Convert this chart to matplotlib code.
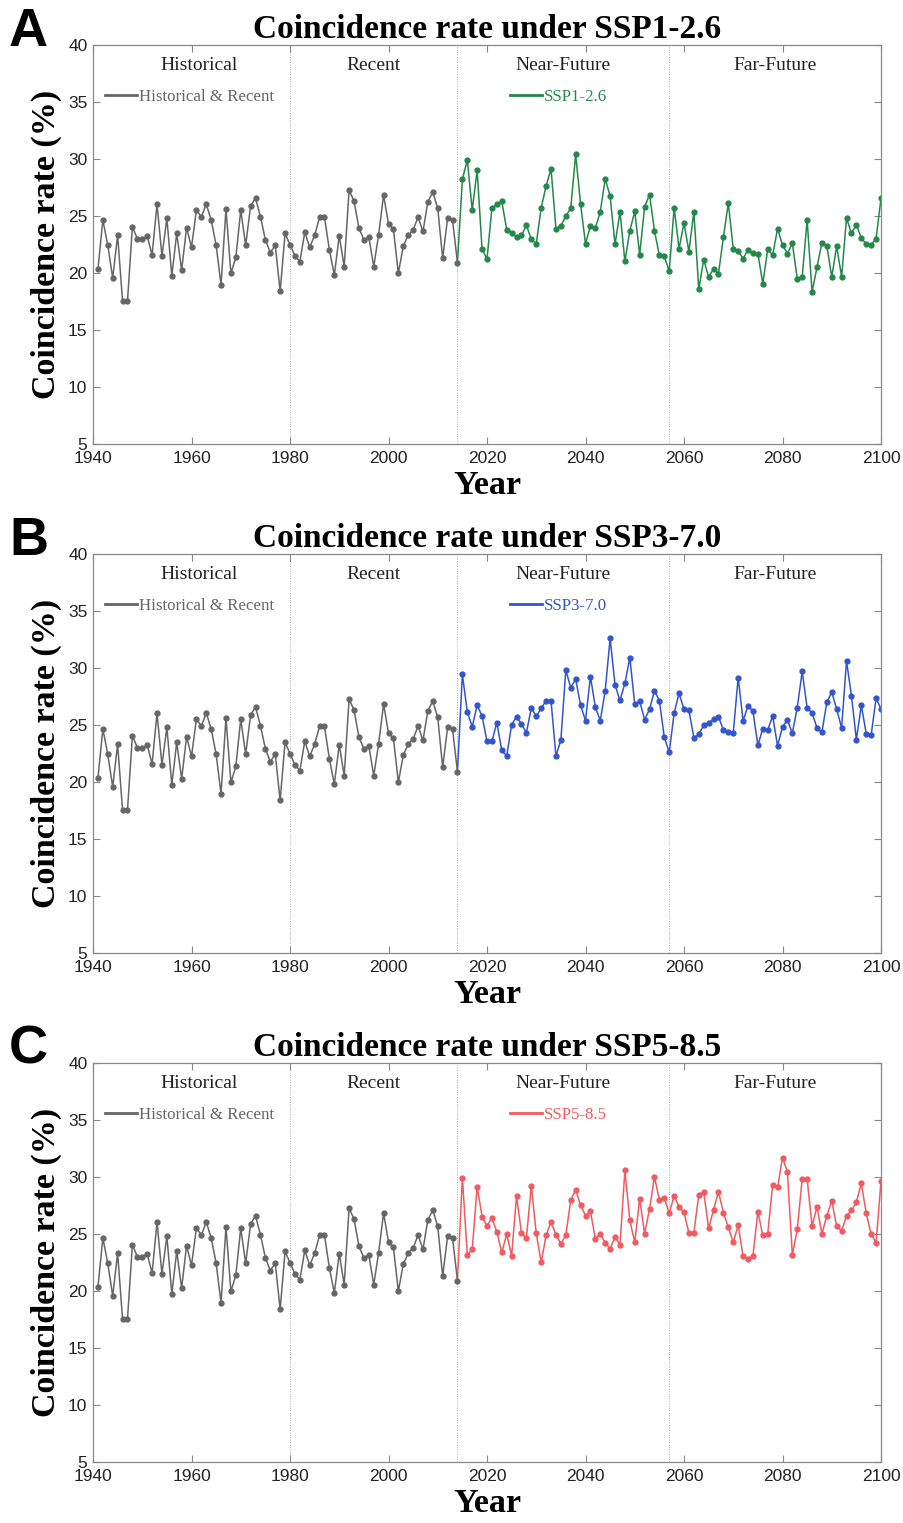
import matplotlib
matplotlib.use("Agg")
import matplotlib.pyplot as plt
from matplotlib.lines import Line2D

# ---------------------------------------------------------------- data
hist_years = list(range(1941, 2015))
fut_years = list(range(2014, 2101))   # future series starts from the 2014 value

hist_rate = [
    20.32, 24.65, 22.43, 19.56, 23.30, 17.54, 17.54, 24.06, 23.01, 22.95,
    23.25, 21.58, 26.05, 21.49, 24.80, 19.74, 23.48, 20.26, 23.98, 22.25,
    25.53, 24.91, 26.05, 24.65, 22.45, 18.95, 25.61, 19.97, 21.37, 25.50,
    22.43, 25.88, 26.58, 24.94, 22.92, 21.78, 22.45, 18.39, 23.48, 22.47,
    21.52, 20.99, 23.57, 22.25, 23.30, 24.88, 24.88, 22.02, 19.82, 23.28,
    20.56, 27.25, 26.32, 23.92, 22.92, 23.16, 20.56, 23.36, 26.84, 24.30,
    23.83, 19.97, 22.37, 23.30, 23.77, 24.91, 23.65, 26.26, 27.08, 25.67,
    21.29, 24.80, 24.65, 20.91,
]

ssp126 = [
    20.91,
    28.22, 29.91, 25.53, 29.01, 22.08, 21.23, 25.70, 26.02, 26.29, 23.80,
    23.54, 23.16, 23.30, 24.18, 22.95, 22.57, 25.70, 27.63, 29.12, 23.89,
    24.12, 25.00, 25.67, 30.41, 26.05, 22.57, 24.12, 23.95, 25.35, 28.27,
    26.73, 22.51, 25.38, 21.02, 23.71, 25.41, 21.61, 25.79, 26.87, 23.71,
    21.55, 21.46, 20.15, 25.73, 22.13, 24.39, 21.87, 25.38, 18.57, 21.17,
    19.65, 20.35, 19.94, 23.13, 26.14, 22.13, 21.93, 21.26, 22.05, 21.75,
    21.70, 19.06, 22.08, 21.58, 23.89, 22.45, 21.70, 22.60, 19.50, 19.67,
    24.65, 18.33, 20.50, 22.66, 22.40, 19.65, 22.34, 19.67, 24.80, 23.48,
    24.24, 23.07, 22.54, 22.49, 23.01, 26.55,
]

ssp370 = [
    20.91,
    29.44, 26.14, 24.85, 26.73, 25.79, 23.57, 23.57, 25.20, 22.78, 22.28,
    25.03, 25.73, 25.09, 24.33, 26.49, 25.76, 26.46, 27.13, 27.10, 22.28,
    23.68, 29.82, 28.27, 29.04, 26.73, 25.38, 29.24, 26.58, 25.38, 28.01,
    32.60, 28.51, 27.16, 28.65, 30.91, 26.81, 27.08, 25.47, 26.37, 28.01,
    27.13, 23.92, 22.60, 26.05, 27.78, 26.37, 26.29, 23.89, 24.18, 24.97,
    25.20, 25.50, 25.73, 24.56, 24.36, 24.30, 29.15, 25.35, 26.70, 26.20,
    23.22, 24.68, 24.56, 25.79, 23.16, 24.85, 25.41, 24.30, 26.52, 29.71,
    26.49, 26.08, 24.74, 24.36, 26.99, 27.89, 26.40, 24.74, 30.61, 27.57,
    23.71, 26.73, 24.24, 24.12, 27.34, 26.43,
]

ssp585 = [
    20.91,
    29.94, 23.16, 23.65, 29.15, 26.52, 25.73, 26.40, 25.18, 23.39, 24.97,
    23.10, 28.36, 25.06, 24.68, 29.21, 25.06, 22.51, 24.88, 26.05, 24.94,
    24.15, 24.88, 27.95, 28.86, 27.54, 26.61, 26.99, 24.59, 25.03, 24.24,
    23.68, 24.77, 24.04, 30.58, 26.20, 24.27, 28.10, 25.03, 27.19, 30.00,
    28.01, 28.19, 26.81, 28.36, 27.37, 26.90, 25.09, 25.09, 28.45, 28.71,
    25.50, 27.13, 28.71, 26.87, 25.58, 24.30, 25.76, 23.04, 22.78, 23.07,
    26.96, 24.88, 25.03, 29.27, 29.09, 31.70, 30.44, 23.16, 25.41, 29.85,
    29.85, 25.70, 27.37, 25.03, 26.58, 27.92, 25.67, 25.29, 26.58, 27.08,
    27.78, 29.44, 26.81, 25.00, 24.24, 29.62,
]

scenarios = ["SSP1-2.6", "SSP3-7.0", "SSP5-8.5"]
panel_letters = ["A", "B", "C"]
colors = ["#23884a", "#3355cc", "#f05a60"]
futures = [ssp126, ssp370, ssp585]

period_names = ["Historical", "Recent", "Near-Future", "Far-Future"]
period_edges = [1940, 1980, 2014, 2057, 2100]

xticks = list(range(1940, 2101, 20))
yticks = list(range(5, 41, 5))

# ---------------------------------------------------------------- figure
W, H = 904, 1523
fig = plt.figure(figsize=(W / 100, H / 100), dpi=100)

serif = ["Liberation Serif", "DejaVu Serif"]
sans = ["Liberation Sans", "DejaVu Sans"]
gray = "#666666"
spine = "#888888"

ax_left, ax_right = 93, 881
tops = [45, 554, 1063]
ax_h = 399

for i, (fut, col, name, letter) in enumerate(zip(futures, colors, scenarios, panel_letters)):
    top = tops[i]
    ax = fig.add_axes([ax_left / W, 1 - (top + ax_h) / H,
                       (ax_right - ax_left) / W, ax_h / H])

    # period boundaries
    for e in period_edges[1:-1]:
        ax.axvline(e, color="#aaaaaa", lw=0.7, ls=(0, (1, 1.5)), zorder=1)

    ax.plot(hist_years, hist_rate, color=gray, lw=1.1, marker="o", ms=3.5, zorder=3)
    ax.plot(fut_years, fut, color=col, lw=1.1, marker="o", ms=3.5, zorder=2,
            markevery=list(range(1, len(fut))))

    ax.set_xlim(1940, 2100)
    ax.set_ylim(5, 40)
    ax.set_xticks(xticks)
    ax.set_yticks(yticks)
    ax.tick_params(direction="in", length=5, width=0.8, color=spine,
                   top=True, right=True, labelsize=12.5, pad=4)
    ax.tick_params(axis="x", pad=5)
    for lab in ax.get_xticklabels() + ax.get_yticklabels():
        lab.set_family(sans)
        lab.set_color("#222222")
    for s in ax.spines.values():
        s.set_color(spine)
        s.set_linewidth(0.9)

    for k, pname in enumerate(period_names):
        xc = (period_edges[k] + period_edges[k + 1]) / 2
        if k == 0:
            xc += 1.5
        ax.text(xc, 38.2, pname, ha="center", va="center",
                family=serif, fontsize=14, color="#222222")

    leg1 = ax.legend([Line2D([], [], color=gray, lw=2)], ["Historical & Recent"],
                     loc="center left", bbox_to_anchor=(0.006, 0.87),
                     frameon=False, handlelength=1.9, handletextpad=0.15,
                     borderaxespad=0, prop={"family": serif, "size": 12.2},
                     labelcolor=gray)
    ax.add_artist(leg1)
    ax.legend([Line2D([], [], color=col, lw=2)], [name],
              loc="center left", bbox_to_anchor=(0.52, 0.87),
              frameon=False, handlelength=1.9, handletextpad=0.15,
              borderaxespad=0, prop={"family": serif, "size": 12.2},
              labelcolor=col)

    ax.set_title(f"Coincidence rate under {name}", family=serif,
                 fontweight="bold", fontsize=24, pad=5)
    ax.set_xlabel("Year", family=serif, fontweight="bold", fontsize=24.5, labelpad=3)
    ax.set_ylabel("Coincidence rate (%)", family=serif, fontweight="bold",
                  fontsize=24.5, labelpad=4)

    fig.text(9 / W, 1 - (top - 38) / H, letter, ha="left", va="top",
             family=sans, fontweight="bold", fontsize=39)

fig.savefig("out.png", dpi=100)
